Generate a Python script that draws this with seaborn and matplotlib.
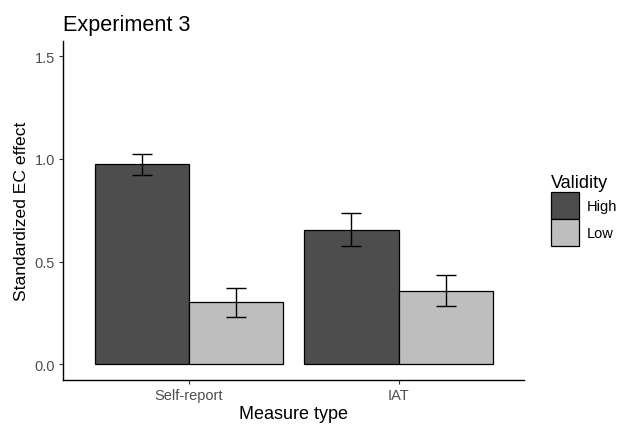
import numpy as np
import pandas as pd
import matplotlib
matplotlib.use("Agg")
import matplotlib.pyplot as plt
import seaborn as sns

# values
measures = ["Self-report", "Self-report", "IAT", "IAT"]
validity = ["High", "Low", "High", "Low"]
effect = [0.975, 0.302, 0.655, 0.360]
se = [0.051, 0.070, 0.080, 0.075]

df = pd.DataFrame({"Measure type": measures, "Validity": validity,
                   "effect": effect, "se": se})

sns.set_theme(style="ticks")
plt.rcParams["font.family"] = ["Liberation Sans", "DejaVu Sans"]

fig, ax = plt.subplots(figsize=(6.19, 4.27), dpi=100)
fig.subplots_adjust(left=0.102, right=0.847, top=0.902, bottom=0.108)

sns.barplot(data=df, x="Measure type", y="effect", hue="Validity",
            order=["Self-report", "IAT"], hue_order=["High", "Low"],
            palette={"High": "#4D4D4D", "Low": "#BEBEBE"},
            width=0.9, errorbar=None, edgecolor="black", linewidth=0.9,
            ax=ax)

# error bars at bar centres, matched by height
for p in ax.patches[:len(df)]:
    h = p.get_height()
    i = int(np.argmin(np.abs(df["effect"].values - h)))
    ax.errorbar(p.get_x() + p.get_width() / 2, h, yerr=df["se"].iloc[i],
                fmt="none", ecolor="black", elinewidth=1, capsize=7,
                capthick=1)

ax.set_xlim(-0.6, 1.6)
ax.set_ylim(-0.075, 1.575)
ax.set_yticks([0.0, 0.5, 1.0, 1.5])
ax.set_yticklabels(["0.0", "0.5", "1.0", "1.5"])
ax.tick_params(axis="both", labelsize=10.5, labelcolor="#4D4D4D",
               color="#333333", length=3, width=0.8, pad=3)
ax.set_xlabel("Measure type", fontsize=13, color="black", labelpad=2)
ax.set_ylabel("Standardized EC effect", fontsize=12.6, color="black", labelpad=4)
for s in ["left", "bottom"]:
    ax.spines[s].set_color("black")
    ax.spines[s].set_linewidth(1)
sns.despine(ax=ax)

ax.set_title("Experiment 3", fontsize=15.6, loc="left", x=0.0, pad=8,
             color="black")

handles, labels = ax.get_legend_handles_labels()
ax.get_legend().remove()
leg = ax.legend(handles, labels, title="Validity", loc="upper left",
                bbox_to_anchor=(538 / 619, 1 - 162 / 427),
                bbox_transform=fig.transFigure, frameon=False,
                fontsize=10.5, title_fontsize=13, handlelength=1.88,
                handleheight=2.45, labelspacing=0.05, handletextpad=0.55)
leg._legend_box.align = "left"
leg.get_title().set_color("black")
for t in leg.get_texts():
    t.set_color("black")

fig.savefig("out.png", dpi=100)
